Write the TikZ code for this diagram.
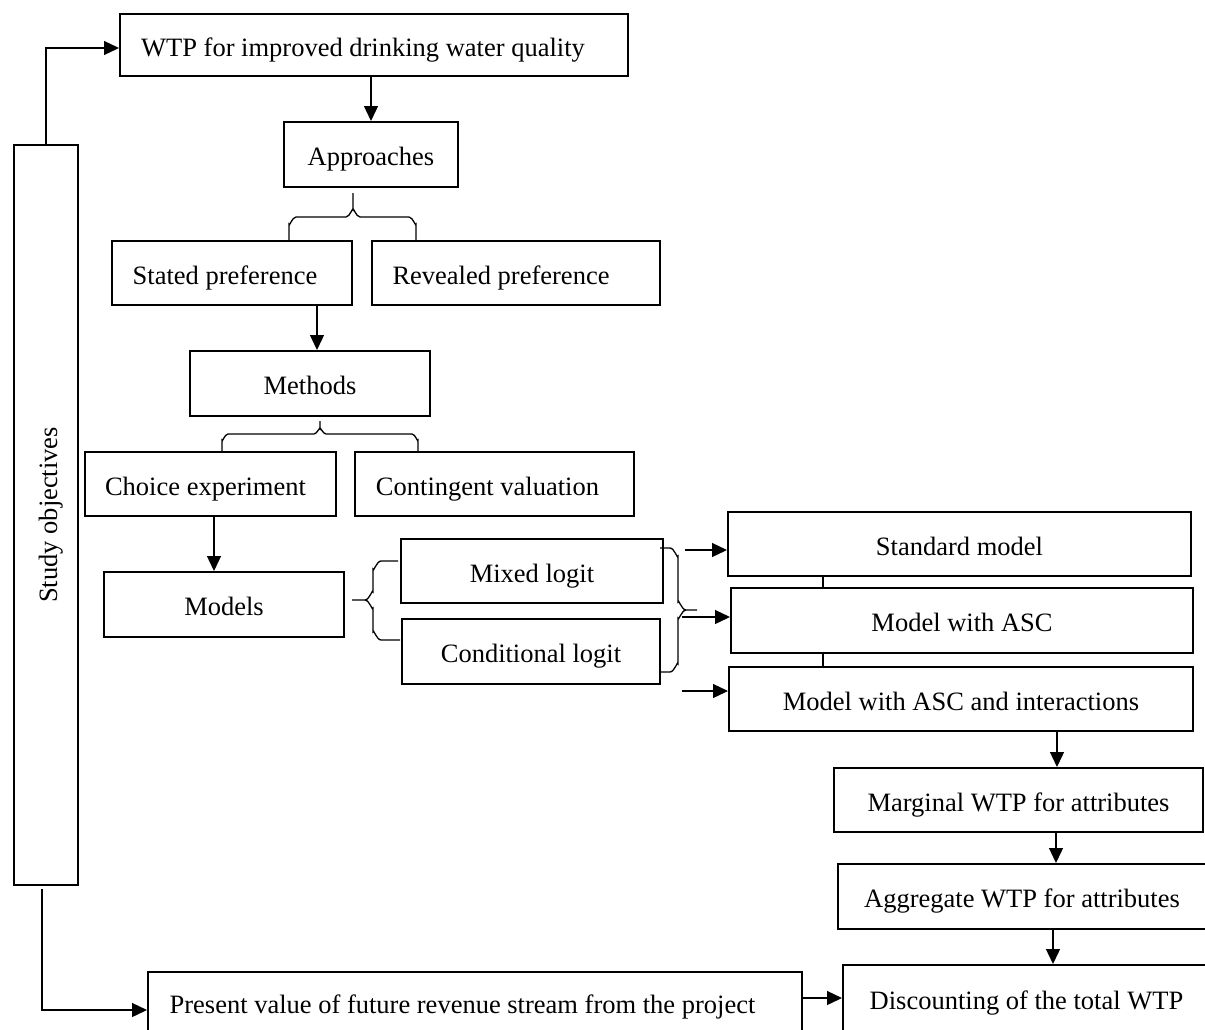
\documentclass[tikz,border=0pt]{standalone}
\usepackage{fontspec}
\setmainfont{Liberation Serif}
\usetikzlibrary{arrows.meta,calc}
\begin{document}
\begin{tikzpicture}[x=1pt,y=-1pt,
  box/.style={draw, line width=2pt, inner sep=0pt, text height=22pt, text depth=0pt, font=\fontsize{26.5}{30}\selectfont},
  conn/.style={line width=1.3pt},
  arr/.style={line width=1.3pt, -{Triangle[length=15pt,width=14pt]}},
  brc/.style={line width=1.3pt}
]
\useasboundingbox (0,0) rectangle (1205,1029);
\clip (0,0) rectangle (1205,1029);
\fill[white] (0,0) rectangle (1205,1029);

% nodes
\node[box, minimum width=508pt, minimum height=62pt] (wtp) at (374,45) {WTP for improved drinking water quality\kern22pt};
\node[box, minimum width=174pt, minimum height=65pt] (appr) at (371,154.5) {Approaches};
\node[box, minimum width=240pt, minimum height=64pt] (stated) at (232,273) {Stated preference\kern14pt};
\node[box, minimum width=288pt, minimum height=64pt] (revealed) at (516,273) {Revealed preference\kern30pt};
\node[box, minimum width=240pt, minimum height=65pt] (methods) at (310,383.5) {Methods};
\node[box, minimum width=251pt, minimum height=64pt] (choice) at (210.5,484) {Choice experiment\kern10pt};
\node[box, minimum width=279pt, minimum height=64pt] (contingent) at (494.5,484) {Contingent valuation\kern14pt};
\node[box, minimum width=240pt, minimum height=65pt] (models) at (224,604.5) {Models};
\node[box, minimum width=262pt, minimum height=64pt] (mixed) at (532,571) {Mixed logit};
\node[box, minimum width=258pt, minimum height=65pt] (cond) at (531,651.5) {Conditional logit};
\node[box, minimum width=463pt, minimum height=64pt] (std) at (959.5,544) {Standard model};
\node[box, minimum width=462pt, minimum height=65pt] (asc) at (962,620.5) {Model with ASC};
\node[box, minimum width=464pt, minimum height=64pt] (ascint) at (961,699) {Model with ASC and interactions};
\node[box, minimum width=369pt, minimum height=64pt] (marg) at (1018.5,800) {Marginal WTP for attributes};
\node[box, minimum width=372pt, minimum height=65pt] (aggr) at (1024,896.5) {Aggregate WTP for attributes\kern4pt};
\node[box, minimum width=367pt, minimum height=66pt] (disc) at (1026.5,998) {Discounting of the total WTP};
\node[box, minimum width=654pt, minimum height=60pt] (present) at (475,1002) {Present value of future revenue stream from the project\kern25pt};
\node[box, minimum width=64pt, minimum height=740pt] (study) at (46,515) {};
\node[font=\fontsize{26.5}{30}\selectfont, rotate=90, inner sep=0pt, text height=22pt, text depth=0pt] (studytxt) at (study.center) {Study objectives};

% helper x positions
\coordinate (xA) at (1057,0);
\coordinate (xB) at (1056,0);
\coordinate (xC) at (1053,0);
\coordinate (xL) at (823,0);

% connectors
\draw[arr] (study.north) |- ([yshift=-3pt]wtp.west);
\draw[arr] (appr.north |- wtp.south) -- (appr.north);
\draw[arr] ([xshift=7pt]methods.north |- stated.south) -- ([xshift=7pt]methods.north);
\draw[arr] ([xshift=-10pt]models.north |- choice.south) -- ([xshift=-10pt]models.north);
\coordinate (a1) at (685,550);
\coordinate (a2) at (682,617);
\coordinate (a3) at (682,691);
\draw[arr] (a1) -- (a1 -| std.west);
\draw[arr] (a2) -- (a2 -| asc.west);
\draw[arr] (a3) -- (a3 -| ascint.west);
\draw[conn] (std.south -| xL) -- (asc.north -| xL);
\draw[conn] (asc.south -| xL) -- (ascint.north -| xL);
\draw[arr] (ascint.south -| xA) -- (marg.north -| xA);
\draw[arr] (marg.south -| xB) -- (aggr.north -| xB);
\draw[arr] (aggr.south -| xC) -- (disc.north -| xC);
\draw[arr] (present.east |- disc.west) -- (disc.west);
\draw[arr] ([xshift=-4pt,yshift=-3pt]study.south) |- ([yshift=-8pt]present.west);

% braces
\draw[brc] (289,240) -- (289,224) to[out=-90,in=180] (296,217) -- (346,217) to[out=0,in=90] (353,210) -- (353,193);
\draw[brc] (353,210) to[out=90,in=180] (360,217) -- (409,217) to[out=0,in=-90] (416,224) -- (416,240);

\draw[brc] (222,452) -- (222,440) to[out=-90,in=180] (228,434) -- (314,434) to[out=0,in=90] (320,429) -- (320,421);
\draw[brc] (320,429) to[out=90,in=180] (326,434) -- (412,434) to[out=0,in=-90] (418,440) -- (418,452);

\draw[brc] (398,561) -- (381,561) to[out=180,in=-90] (373,569) -- (373,592) to[out=90,in=0] (365,600) -- (352,600);
\draw[brc] (365,600) to[out=0,in=-90] (373,608) -- (373,632) to[out=90,in=180] (381,640) -- (400,640);

\draw[brc] (660,548) -- (670,548) to[out=0,in=-90] (678,556) -- (678,602) to[out=90,in=180] (686,610) -- (697,610);
\draw[brc] (686,610) to[out=180,in=-90] (678,618) -- (678,664) to[out=90,in=0] (670,672) -- (660,672);
\end{tikzpicture}
\end{document}
